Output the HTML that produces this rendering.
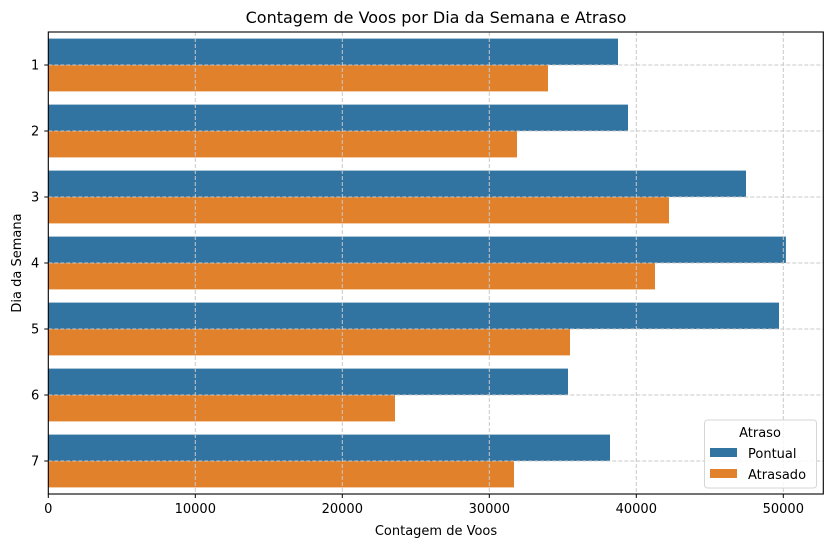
<!DOCTYPE html>
<html><head><meta charset="utf-8"><style>
body{margin:0;background:#fff}
text{font-family:"DejaVu Sans","Liberation Sans",sans-serif;fill:#000}
</style></head><body>
<svg id="chart" width="833" height="547" xmlns="http://www.w3.org/2000/svg">
<rect width="833" height="547" fill="#fff"/>
<text x="436" y="23" font-size="16" text-anchor="middle">Contagem de Voos por Dia da Semana e Atraso</text>
<g id="bars"></g><g id="grid"></g><g id="axes"></g>
<text x="436" y="535" font-size="13" text-anchor="middle">Contagem de Voos</text>
<text x="21" y="263" font-size="13" text-anchor="middle" transform="rotate(-90 21 263)">Dia da Semana</text>
<g>
<rect x="704.5" y="420" width="112" height="68" rx="3" fill="#fff" fill-opacity="0.85" stroke="#d6d6d6"/>
<text x="760" y="437" font-size="13" text-anchor="middle">Atraso</text>
<g><rect x="710" y="448" width="27" height="9" fill="#3274a1"/><text x="748" y="458" font-size="13">Pontual</text></g>
<g><rect x="710" y="469" width="27" height="9" fill="#e1812c"/><text x="748" y="479" font-size="13">Atrasado</text></g>
</g>
</svg>
<script>
const categories=["1","2","3","4","5","6","7"];
const pontual=[38755,39435,47463,50177,49708,35354,38211];
const atrasado=[33993,31884,42224,41272,35490,23585,31680];
const xTicks=[0,10000,20000,30000,40000,50000];
const NS="http://www.w3.org/2000/svg";
const L=48.3,R=823.3,T=32,B=494;
const x=v=>L+v*0.0147;
const y=i=>65+66*i;
function mk(tag,attrs,parent){const e=document.createElementNS(NS,tag);for(const k in attrs)e.setAttribute(k,attrs[k]);document.getElementById(parent).appendChild(e);return e;}
categories.forEach((c,i)=>{
 const b1=mk('rect',{x:L,y:y(i)-26.4,width:x(pontual[i])-L,height:26.4,fill:'#3274a1'},'bars');
 
 
 const b2=mk('rect',{x:L,y:y(i),width:x(atrasado[i])-L,height:26.4,fill:'#e1812c'},'bars');
 
 
 const g=mk('line',{x1:L,x2:R,y1:y(i),y2:y(i),stroke:'#c8c8c8','stroke-dasharray':'4,2'},'grid');
 
 
 mk('line',{x1:L-4,x2:L,y1:y(i),y2:y(i),stroke:'#000'},'axes');
 const t=mk('text',{x:L-9,y:y(i)+4.5,'font-size':13,'text-anchor':'end'},'axes');
 t.textContent=c;
 
 
});
xTicks.forEach(v=>{
 if(v>0){const g=mk('line',{x1:x(v),x2:x(v),y1:T,y2:B,stroke:'#c8c8c8','stroke-dasharray':'4,2'},'grid');
 
 }
 mk('line',{x1:x(v),x2:x(v),y1:B,y2:B+4,stroke:'#000'},'axes');
 const t=mk('text',{x:x(v),y:B+19,'font-size':13,'text-anchor':'middle'},'axes');
 t.textContent=v;
 
 
});
const fr=mk('rect',{x:L,y:T,width:R-L,height:B-T,fill:'none',stroke:'#000','stroke-width':1.1},'axes');


</script>
</body></html>
